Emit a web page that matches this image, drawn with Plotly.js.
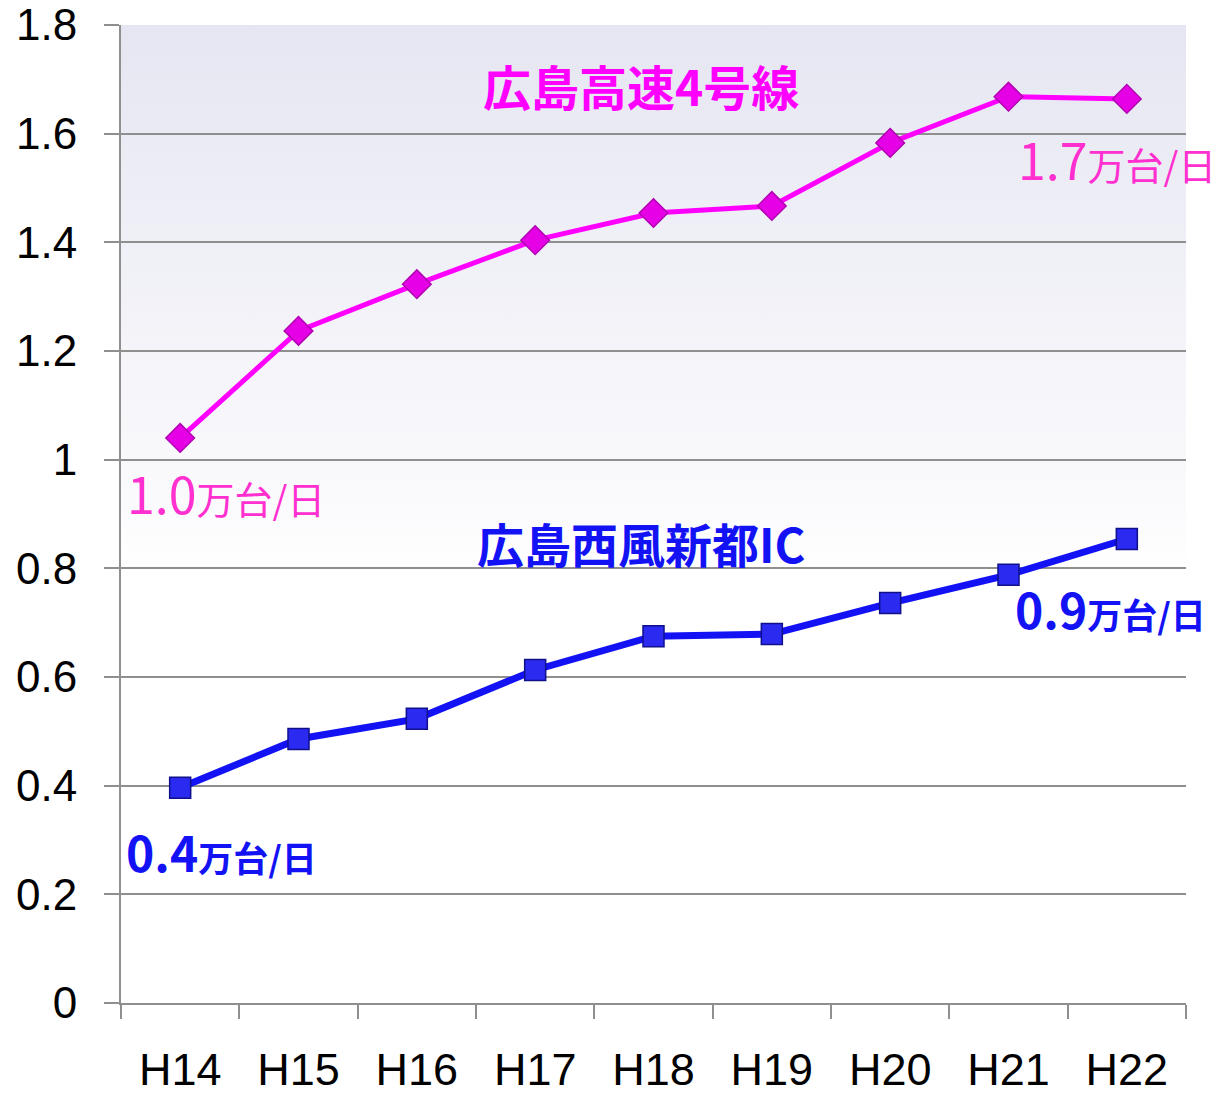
<!DOCTYPE html>
<html>
<head>
<meta charset="utf-8">
<script src="https://cdn.plot.ly/plotly-3.0.1.min.js"></script>
<style>html,body{margin:0;padding:0;background:#fff;}#chart{width:1219px;height:1094px;}</style>
</head>
<body>
<div id="chart"></div>
<script>
// ---- data ----
const years = ["H14","H15","H16","H17","H18","H19","H20","H21","H22"];
const hiroshimaExpressway4 = [1.04, 1.237, 1.323, 1.404, 1.454, 1.467, 1.583, 1.668, 1.664];
const nishiFujinIC = [0.396, 0.486, 0.523, 0.613, 0.675, 0.679, 0.736, 0.788, 0.854];
const seriesNames = ["広島高速4号線", "広島西風新都IC"];
const startLabels = ["1.0", "0.4"];
const endLabels = ["1.7", "0.9"];
const unitText = "万台/日";
const yTicks = [0, 0.2, 0.4, 0.6, 0.8, 1, 1.2, 1.4, 1.6, 1.8];

const magenta = "#ff00ff";
const magentaLabel = "#ff2fd0";
const blue = "#1212f5";

const traces = [
  {
    x: years, y: hiroshimaExpressway4, name: seriesNames[0], type: "scatter", mode: "lines+markers",
    line: {color: magenta, width: 5},
    marker: {symbol: "diamond", size: 22, color: "#e600e6", line: {color: "#b000b0", width: 1.5}},
    cliponaxis: false
  },
  {
    x: years, y: nishiFujinIC, name: seriesNames[1], type: "scatter", mode: "lines+markers",
    line: {color: blue, width: 7},
    marker: {symbol: "square", size: 21, color: "#2a2af0", line: {color: "#10108a", width: 1.5}},
    cliponaxis: false
  }
];

function lbl(num, bold) {
  if (bold) {
    return '<b><span style="font-size:48px">' + num + '</span><span style="font-size:35px">' + unitText + '</span></b>';
  }
  return '<span style="font-size:50px">' + num + '</span><span style="font-size:38px">' + unitText + '</span>';
}

const gradSvg = '<svg xmlns="http://www.w3.org/2000/svg" width="10" height="100" preserveAspectRatio="none">' +
  '<defs><linearGradient id="g" x1="0" y1="0" x2="0" y2="1">' +
  '<stop offset="0" stop-color="#e6e6f2"/><stop offset="0.5" stop-color="#fbfbfd"/><stop offset="0.56" stop-color="#ffffff"/>' +
  '</linearGradient></defs><rect width="10" height="100" fill="url(#g)"/></svg>';

const layout = {
  width: 1219, height: 1094,
  margin: {l: 121, r: 33, t: 25, b: 91},
  paper_bgcolor: "#ffffff",
  plot_bgcolor: "rgba(0,0,0,0)",
  showlegend: false,
  font: {family: "Liberation Sans, Arial, sans-serif", color: "#000"},
  images: [{
    source: "data:image/svg+xml;charset=utf-8," + encodeURIComponent(gradSvg),
    xref: "paper", yref: "paper", x: 0, y: 1, sizex: 1, sizey: 1,
    sizing: "stretch", xanchor: "left", yanchor: "top", layer: "below"
  }],
  xaxis: {
    type: "category",
    range: [-0.5, 8.5],
    tickson: "boundaries",
    ticks: "outside", ticklen: 14, tickwidth: 2, tickcolor: "#8f8f8f",
    showline: true, linecolor: "#8f8f8f", linewidth: 2,
    showgrid: false, zeroline: false,
    tickfont: {size: 45, family: "Liberation Sans, Arial, sans-serif", color: "#000"},
    ticklabelstandoff: 26
  },
  yaxis: {
    range: [0, 1.8],
    tickvals: yTicks,
    ticks: "outside", ticklen: 15, tickwidth: 2, tickcolor: "#8f8f8f",
    showline: true, linecolor: "#8f8f8f", linewidth: 2,
    showgrid: true, gridcolor: "#8f8f8f", gridwidth: 2,
    zeroline: false,
    ticklabeloverflow: "allow",
    tickfont: {size: 44, family: "Liberation Sans, Arial, sans-serif", color: "#000"},
    ticklabelstandoff: 18
  },
  annotations: [
    {text: "<b>" + seriesNames[0] + "</b>", xref: "paper", yref: "y", x: 0.488, y: 1.69,
     showarrow: false, font: {size: 48, color: magenta, family: "Noto Sans CJK JP"}},
    {text: "<b>" + seriesNames[1] + "</b>", xref: "paper", yref: "y", x: 0.488, y: 0.847,
     showarrow: false, font: {size: 47, color: blue, family: "Noto Sans CJK JP"}},
    {text: lbl(startLabels[0], false), xref: "paper", yref: "y", x: 0.004, y: 0.94,
     xanchor: "left", showarrow: false, font: {size: 38, color: magentaLabel, family: "Noto Sans CJK JP"}},
    {text: lbl(endLabels[0], false), xref: "paper", yref: "y", x: 0.84, y: 1.555,
     xanchor: "left", showarrow: false, font: {size: 38, color: magentaLabel, family: "Noto Sans CJK JP"}},
    {text: lbl(startLabels[1], true), xref: "paper", yref: "y", x: 0.003, y: 0.28,
     xanchor: "left", showarrow: false, font: {size: 35, color: blue, family: "Noto Sans CJK JP"}},
    {text: lbl(endLabels[1], true), xref: "paper", yref: "y", x: 0.838, y: 0.727,
     xanchor: "left", showarrow: false, font: {size: 35, color: blue, family: "Noto Sans CJK JP"}}
  ]
};

Plotly.newPlot("chart", traces, layout, {displayModeBar: false, staticPlot: true});
</script>
</body>
</html>
